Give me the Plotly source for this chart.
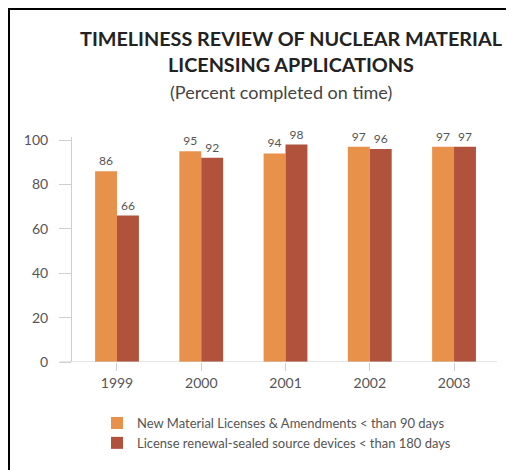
import plotly.graph_objects as go

years = ["1999", "2000", "2001", "2002", "2003"]
new_licenses = [86, 95, 94, 97, 97]
renewals = [66, 92, 98, 96, 97]
series_names = [
    "New Material Licenses & Amendments < than 90 days",
    "License renewal-sealed source devices < than 180 days",
]
y_ticks = [0, 20, 40, 60, 80, 100]

ORANGE = "#E8914B"
RED = "#B0523C"
GREY_TXT = "#555555"
AXIS = "#CFCFCF"
FONT = "Lato"

fig = go.Figure()
fig.add_trace(go.Bar(
    x=years, y=new_licenses, name=series_names[0], marker_color=ORANGE,
    marker_line_width=0, text=new_licenses, textposition="outside",
    textfont=dict(size=12, color=GREY_TXT, family=FONT), cliponaxis=False,
))
fig.add_trace(go.Bar(
    x=years, y=renewals, name=series_names[1], marker_color=RED,
    marker_line_width=0, text=renewals, textposition="outside",
    textfont=dict(size=12, color=GREY_TXT, family=FONT), cliponaxis=False,
))

# page body adds an 8px offset; work in figure pixel coordinates
OFF = 8
W, H = 514 - OFF, 470 - OFF
L, R, T, B = 72 - OFF, 17, 137 - OFF, 108
pw, ph = W - L - R, H - T - B

def px_x(p):
    return (p - L) / pw

def px_y(p):
    return (H - B - p) / ph

fig.update_layout(
    width=W, height=H,
    margin=dict(l=L, r=R, t=T, b=B, autoexpand=False),
    paper_bgcolor="white", plot_bgcolor="white",
    font=dict(family=FONT, color=GREY_TXT),
    barmode="group", bargap=0.48, bargroupgap=0,
    showlegend=True,
    legend=dict(
        x=89 / W, y=1 - 400 / H, xref="container", yref="container",
        xanchor="left", yanchor="top",
        font=dict(size=13, color=GREY_TXT, family=FONT),
        bgcolor="rgba(0,0,0,0)", tracegroupgap=0,
    ),
    title=dict(
        text="TIMELINESS REVIEW OF NUCLEAR MATERIAL<br>LICENSING APPLICATIONS",
        x=283 / W, xanchor="center", xref="container",
        y=1 - 38 / H, yanchor="top", yref="container",
        font=dict(family=FONT, size=19.8, color="#222222", weight="bold"),
    ),
    annotations=[dict(
        text="(Percent completed on time)", xref="paper", yref="paper",
        x=px_x(273), y=px_y(84), xanchor="center", yanchor="middle",
        showarrow=False, font=dict(family=FONT, size=18, color="#444444"),
    )],
    xaxis=dict(
        range=[-0.534, 4.51], showline=False, showgrid=False, zeroline=False,
        ticks="outside", ticklen=8, tickcolor=AXIS, tickwidth=1,
        tickfont=dict(size=14, color=GREY_TXT, family=FONT),
    ),
    yaxis=dict(
        range=[0, 101.4], tickvals=y_ticks, showline=True, linecolor=AXIS,
        linewidth=1, showgrid=False, zeroline=False,
        ticks="outside", ticklen=12, tickcolor=AXIS, tickwidth=1,
        ticklabelstandoff=8,
        tickfont=dict(size=14, color=GREY_TXT, family=FONT),
    ),
    shapes=[
        # x axis baseline (extends slightly left of y axis)
        dict(type="line", xref="paper", yref="y", x0=px_x(52), x1=1, y0=0, y1=0,
             line=dict(color=AXIS, width=1)),
        # frame: top and left
        dict(type="line", xref="paper", yref="paper", x0=px_x(0), x1=px_x(W),
             y0=px_y(0.5), y1=px_y(0.5), line=dict(color="black", width=3)),
        dict(type="line", xref="paper", yref="paper", x0=px_x(0.5), x1=px_x(0.5),
             y0=px_y(0), y1=px_y(H), line=dict(color="black", width=3)),
    ],
)

fig.write_html("out.html")
